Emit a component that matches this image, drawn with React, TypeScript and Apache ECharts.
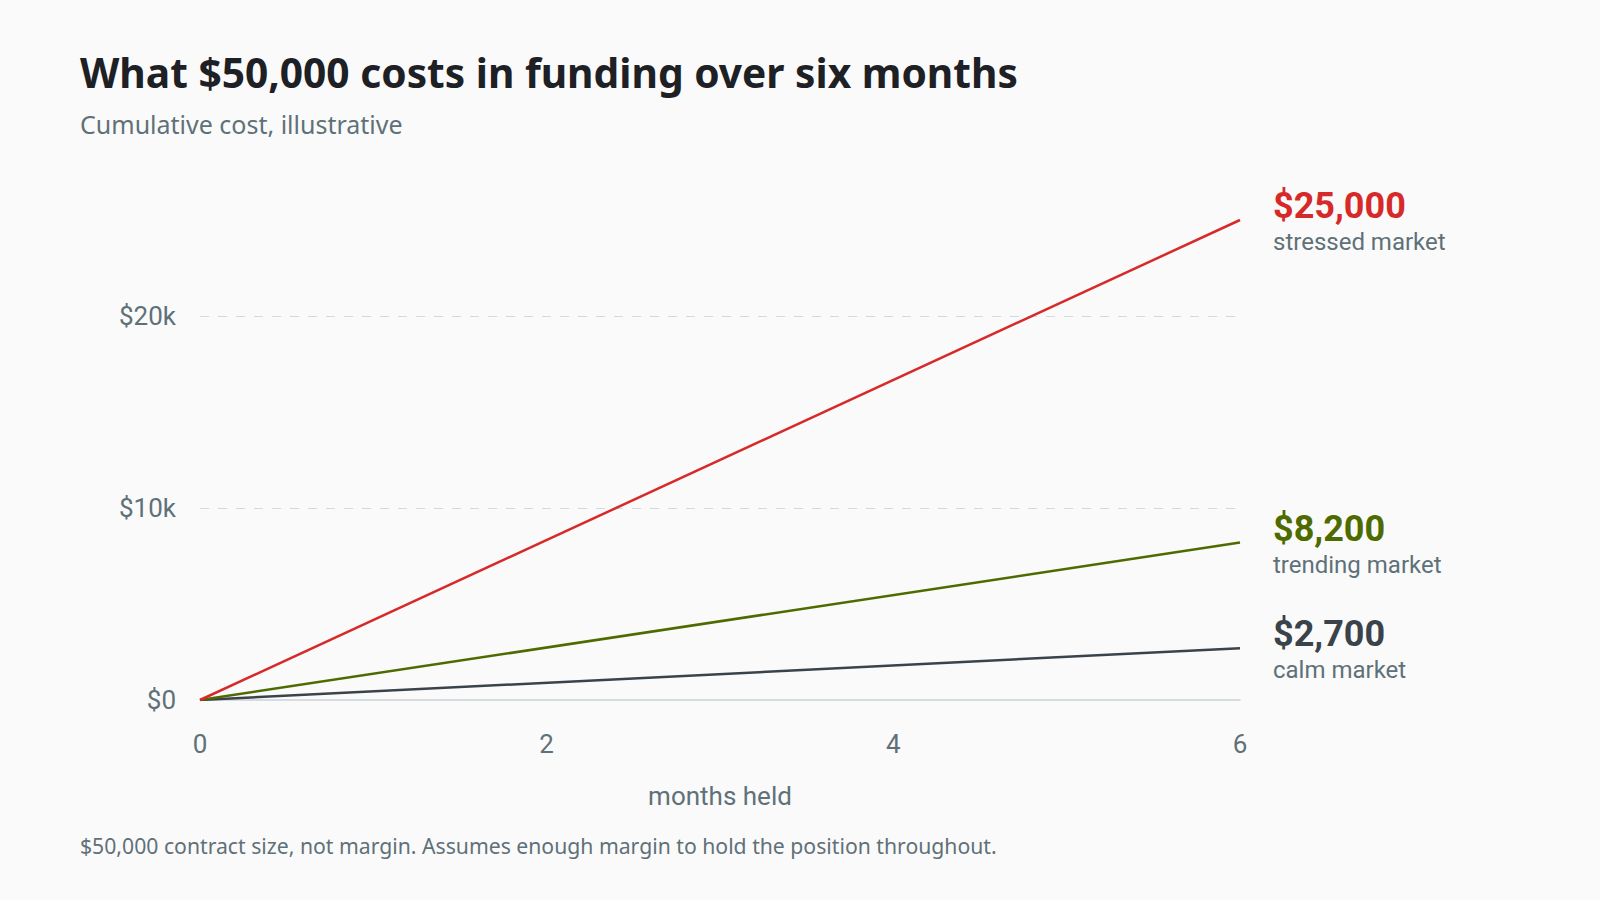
import React, { useEffect, useRef } from "react";
import * as echarts from "echarts";

const months = [0, 6];
const stressed = [0, 25000];
const trending = [0, 8200];
const calm = [0, 2700];
const seriesNames = ["stressed market", "trending market", "calm market"];
const endValues = ["$25,000", "$8,200", "$2,700"];
const xTicks = [0, 2, 4, 6];
const yTicks = [0, 10000, 20000];

const TITLE = "What $50,000 costs in funding over six months";
const SUBTITLE = "Cumulative cost, illustrative";
const FOOTER = "$50,000 contract size, not margin. Assumes enough margin to hold the position throughout.";
const X_NAME = "months held";

const FONT = "Roboto, 'Noto Sans', sans-serif";
const FONT2 = "'Noto Sans', Roboto, sans-serif";
const GREY = "#5f7178";
const COLORS = ["#d62a2a", "#4e6b00", "#3a434a"];

export default function App() {
  const ref = useRef<HTMLDivElement>(null);
  useEffect(() => {
    document.body.style.margin = "0";
    document.body.style.background = "#fafafa";
    const chart = echarts.init(ref.current!, null, { renderer: "svg" });
    const data = [stressed, trending, calm];
    const series = data.map((vals, i) => ({
      type: "line",
      name: seriesNames[i],
      data: months.map((m, j) => [m, vals[j]]),
      showSymbol: false,
      symbol: "none",
      z: 3 - i,
      lineStyle: { color: COLORS[i], width: 2.5 },
      itemStyle: { color: COLORS[i] },
      endLabel: {
        show: true,
        distance: 33,
        padding: [8, 0, 0, 0],
        formatter: () => `{v|${endValues[i]}}\n{n|${seriesNames[i]}}`,
        rich: {
          v: { fontFamily: FONT, fontSize: 36, fontWeight: "bold", color: COLORS[i], lineHeight: 36 },
          n: { fontFamily: FONT, fontSize: 24, color: GREY, lineHeight: 36 },
        },
      },
    }));
    chart.setOption({
      animation: false,
      backgroundColor: "#fafafa",
      textStyle: { fontFamily: FONT },
      grid: { left: 200, right: 360, top: 220, bottom: 200 },
      xAxis: {
        type: "value",
        min: xTicks[0],
        max: xTicks[xTicks.length - 1],
        interval: 2,
        name: X_NAME,
        nameLocation: "middle",
        nameGap: 83,
        nameTextStyle: { fontFamily: FONT, fontSize: 26, color: GREY },
        axisLine: { show: true, lineStyle: { color: "#c9d3d7", width: 1.5 } },
        axisTick: { show: false },
        splitLine: { show: false },
        axisLabel: { fontFamily: FONT, fontSize: 26, color: GREY, margin: 31 },
      },
      yAxis: {
        type: "value",
        min: 0,
        max: 25000,
        interval: 10000,
        axisLine: { show: false },
        axisTick: { show: false },
        axisLabel: {
          fontFamily: FONT,
          fontSize: 26,
          color: GREY,
          margin: 24,
          showMaxLabel: false,
          formatter: (v: number) =>
            yTicks.includes(v) ? (v === 0 ? "$0" : "$" + v / 1000 + "k") : "",
        },
        splitLine: {
          show: true,
          showMinLine: false,
          showMaxLine: false,
          lineStyle: { color: "#d3dadd", type: [9, 9], width: 1 },
        },
      },
      graphic: [
        {
          type: "text",
          x: 80,
          y: 72,
          style: { text: TITLE, font: `bold 40.7px ${FONT2}`, fill: "#1d2024", verticalAlign: "middle" },
        },
        {
          type: "text",
          x: 80,
          y: 124,
          style: { text: SUBTITLE, font: `25px ${FONT2}`, fill: GREY, verticalAlign: "middle" },
        },
        {
          type: "text",
          x: 80,
          y: 845,
          style: { text: FOOTER, font: `21.2px ${FONT2}`, fill: GREY, verticalAlign: "middle" },
        },
      ],
      series,
    });
    return () => chart.dispose();
  }, []);
  return <div ref={ref} style={{ width: 1600, height: 900, background: "#fafafa" }} />;
}
